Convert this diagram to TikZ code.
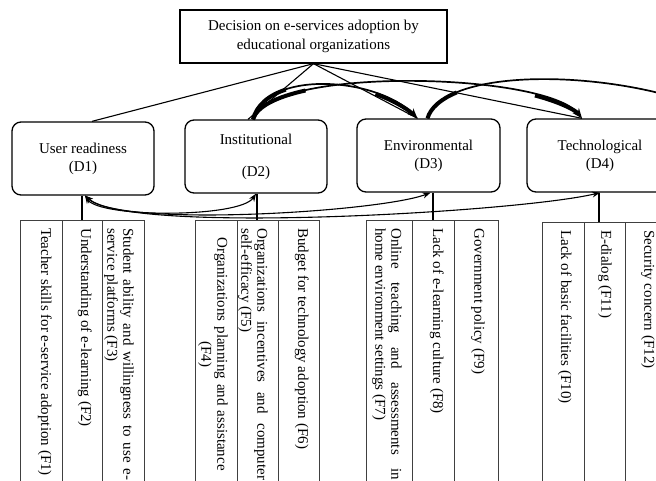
\documentclass[tikz,border=0pt]{standalone}
\usepackage{fontspec}
\setmainfont{Liberation Serif}
\usetikzlibrary{arrows.meta}
\begin{document}
\begin{tikzpicture}[x=1pt,y=-1pt,
  dbox/.style={draw, line width=1.3pt, rounded corners=9pt, inner sep=0pt, align=center,
    font=\fontsize{15}{18}\selectfont},
  topbox/.style={draw, line width=1.3pt, inner sep=0pt, align=center,
    font=\fontsize{15}{19}\selectfont},
  cell/.style={draw=black!75, line width=0.8pt},
  ftext/.style={rotate=-90, anchor=north west, inner sep=0pt, text width=252pt,
    align=justify, font=\fontsize{15}{16}\selectfont},
  fctext/.style={ftext, align=center},
  conn/.style={line width=1.1pt},
  tip/.style={-{Stealth[length=10pt,width=8pt]}},
  dtip/.style={{Stealth[length=8pt,width=6pt]}-{Stealth[length=8pt,width=6pt]}},
  heavy/.style={line width=1.7pt, tip},
  taper/.style={line width=4pt},
  light/.style={line width=1.1pt, dtip}]
\clip (0,0) rectangle (656,480);
\fill[white] (0,0) rectangle (656,480);

% top node
\node[topbox, minimum width=267pt, minimum height=53pt] (top) at (313.5,36.5)
  {Decision on e-services adoption by\\educational organizations};

% dimension boxes
\node[dbox, minimum width=142pt, minimum height=73pt] (D1) at (83,158.5)
  {User readiness\\(D1)};
\node[dbox, minimum width=142pt, minimum height=73pt] (D2) at (256,156.5)
  {Institutional\\[14pt](D2)};
\node[dbox, minimum width=143pt, minimum height=73pt] (D3) at (428.5,155.5)
  {Environmental\\(D3)};
\node[dbox, minimum width=146pt, minimum height=73pt] (D4) at (600,155.5)
  {Technological\\(D4)};

% straight lines from the decision box
\draw[conn] (top.south) -- ([xshift=9pt]D1.north);
\draw[conn] (top.south) -- ([xshift=-8pt]D2.north);
\draw[conn] (top.south) -- ([xshift=-11pt]D3.north);
\draw[conn] (top.south) -- ([xshift=-18pt]D4.north);

% upper curved arrows
\coordinate (offr) at (730,119);
\draw[heavy] ([xshift=-3pt]D2.north) .. controls (265,70) and (375,76) .. ([xshift=-11pt]D3.north);
\draw[heavy] ([xshift=-3pt]D2.north) .. controls (268,66) and (545,72) .. ([xshift=-18pt]D4.north);
\draw[heavy, -] ([xshift=-1pt]D3.north) .. controls (445,62) and (640,70) .. (offr);
% thickened (tapered) ends of the curved arrows
\draw[taper] ([xshift=-3pt]D2.north) .. controls (256.6,105) and (269,95) .. (285.8,89.6);
\draw[taper] ([xshift=-3pt]D2.north) .. controls (256.75,106.5) and (276.9,96.75) .. (305.5,90.5);
\draw[taper, shorten >=7pt] (375.5,94) .. controls (392,99.8) and (406.5,108.25) .. ([xshift=-11pt]D3.north);
\draw[taper, shorten >=7pt] (535,95.5) .. controls (557.6,101.4) and (574.6,109.6) .. ([xshift=-18pt]D4.north);
\draw[taper] ([xshift=-1pt]D3.north) .. controls (430.6,107.6) and (441.3,98.8) .. (456.8,92.4);

% lower curved arrows
\draw[light] ([xshift=2pt]D1.south) .. controls (100,218) and (240,218) .. (D2.south);
\draw[light] ([xshift=2pt]D1.south) .. controls (120,228) and (380,212) .. ([xshift=2pt]D3.south);
\draw[light] ([xshift=2pt]D1.south) .. controls (130,235) and (520,212) .. (D4.south);

% factor columns
\coordinate (g1) at (82,220);
\coordinate (g2) at (257,220);
\coordinate (g3) at (433,220);
\coordinate (g4) at (599,222);
\draw[conn] (D1.south -| g1) -- (g1);
\draw[conn] (D2.south -| g2) -- (g2);
\draw[conn] (D3.south -| g3) -- (g3);
\draw[conn] (D4.south -| g4) -- (g4);

\draw[cell] (20,220) rectangle (62,500);
\draw[cell] (62,220) rectangle (102,500);
\draw[cell] (102,220) rectangle (144,500);
\draw[cell] (195,220) rectangle (237,500);
\draw[cell] (237,220) rectangle (278,500);
\draw[cell] (278,220) rectangle (319,500);
\draw[cell] (366,220) rectangle (412,500);
\draw[cell] (412,220) rectangle (454,500);
\draw[cell] (454,220) rectangle (498,500);
\draw[cell] (542,222) rectangle (584,500);
\draw[cell] (584,222) rectangle (625,500);
\draw[cell] (625,222) rectangle (667,500);

\node[ftext] (F1) at (52,228) {Teacher skills for e-service adoption (F1)};
\node[ftext] (F2) at (92,228) {Understanding of e-learning (F2)};
\node[ftext] (F3) at (134,228) {Student ability and willingness to use e-\linebreak service platforms (F3)};
\node[fctext] (F4) at (228,228) {Organizations planning and assistance\\(F4)};
\node[ftext] (F5) at (268,228) {Organizations incentives and computer\linebreak self-efficacy (F5)};
\node[ftext] (F6) at (309,228) {Budget for technology adoption (F6)};
\node[ftext] (F7) at (402,228) {Online teaching and assessments in\linebreak home environment settings (F7)};
\node[ftext] (F8) at (444,228) {Lack of e-learning culture (F8)};
\node[ftext] (F9) at (485,228) {Government policy (F9)};
\node[ftext] (F10) at (572,230) {Lack of basic facilities (F10)};
\node[ftext] (F11) at (612,230) {E-dialog (F11)};
\node[ftext] (F12) at (655,230) {Security concern (F12)};
\end{tikzpicture}
\end{document}
